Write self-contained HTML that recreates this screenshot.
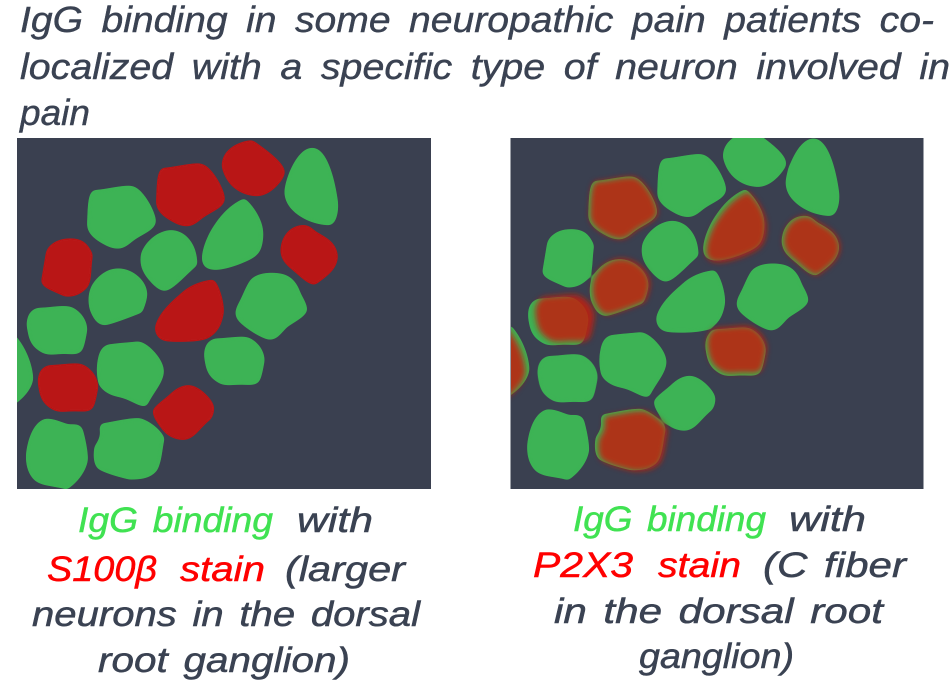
<!DOCTYPE html>
<html>
<head>
<meta charset="utf-8">
<style>
html,body{margin:0;padding:0;background:#fff;width:952px;height:682px;overflow:hidden}
svg{display:block}
text{font-family:"Liberation Sans","DejaVu Sans",sans-serif;font-style:italic;font-size:36px;fill:#3a4252;stroke:#3a4252;stroke-width:.4px;word-spacing:7px}
.c{font-size:35px;word-spacing:4px;stroke-width:.5px}
.g{fill:#40e252;stroke:#40e252}
.r{fill:#ff0000;stroke:#ff0000}
</style>
</head>
<body>
<svg width="952" height="682" viewBox="0 0 952 682" xmlns="http://www.w3.org/2000/svg">
<defs>
<filter id="b" x="-30%" y="-30%" width="160%" height="160%"><feGaussianBlur stdDeviation="9"/></filter>
<filter id="s" x="-5%" y="-5%" width="110%" height="110%"><feGaussianBlur stdDeviation="6"/><feComponentTransfer><feFuncA type="linear" slope="12" intercept="-5.5"/></feComponentTransfer></filter>
<clipPath id="cl"><rect x="17" y="138" width="414" height="351"/></clipPath>
<clipPath id="cr"><rect x="511" y="138" width="412.500" height="351"/></clipPath>
<path id="A" d="M937 55C975 55 1000 130 1012 215C1015 250 1005 285 985 284C920 280 855 240 855 185C858 140 895 55 937 55Z"/>
<path id="B" d="M757 32C790 55 855 100 853 128C850 150 810 197 770 197C720 195 680 165 667 110C665 60 715 35 757 32Z"/>
<path id="C" d="M490 115C520 115 565 100 600 102C630 104 672 175 673 207C672 235 625 245 600 268C575 290 560 292 530 280C500 265 468 245 470 215C472 180 470 120 490 115Z"/>
<path id="E" d="M733 207C755 225 790 270 788 315C786 370 770 380 720 400C680 415 640 425 620 412C600 400 605 360 630 310C655 265 690 225 733 207Z"/>
<path id="F" d="M905 287C925 285 935 295 945 305C970 320 1010 335 1012 380C1010 420 975 440 945 463C920 460 905 440 880 420C855 400 843 385 843 360C845 320 870 290 905 287Z"/>
<path id="G" d="M205 327C250 325 265 345 277 375C270 410 275 450 262 470C240 495 215 500 195 498C170 485 130 475 125 455C130 425 135 395 140 365C150 340 180 327 205 327Z"/>
<path id="H" d="M515 302C555 305 590 340 590 405C565 425 530 465 510 475C490 490 470 475 445 445C425 420 420 400 425 370C440 330 480 302 515 302Z"/>
<path id="I" d="M355 417C400 418 440 455 440 495C438 515 432 530 425 546C390 560 340 580 315 584C295 585 280 565 270 535C265 510 265 480 285 455C305 430 330 417 355 417Z"/>
<path id="J" d="M640 450C655 465 670 510 670 545C665 585 650 610 620 625C590 635 530 635 500 632C480 630 465 615 467 590C475 555 510 520 540 495C565 470 595 455 640 450Z"/>
<path id="K" d="M815 430C860 430 885 445 900 490C910 510 920 525 920 540C915 560 880 575 860 590C840 610 830 630 805 627C780 620 740 595 720 575C705 560 705 545 715 525C730 500 740 465 755 448C770 435 790 430 815 430Z"/>
<path id="L" d="M120 535C150 535 190 525 215 533C240 545 260 570 260 600C255 625 253 645 245 660C235 675 215 670 190 670C165 670 150 675 130 668C105 655 90 640 85 605C78 575 85 555 95 545C105 537 110 535 120 535Z"/>
<path id="O" d="M325 645C360 640 380 640 415 636C445 640 490 690 490 725C488 760 455 790 440 825C425 835 390 805 360 800C330 795 305 780 297 760C290 730 292 700 297 680C302 660 310 650 325 645Z"/>
<path id="P" d="M565 767C595 767 640 810 641 835C640 850 637 860 630 868C610 880 590 915 565 925C540 935 505 920 490 900C475 880 458 860 460 840C475 820 495 810 515 790C535 772 550 767 565 767Z"/>
<path id="Q" d="M135 868C160 865 185 880 205 885C220 885 240 880 247 900C255 930 262 960 262 990C255 1030 225 1060 200 1077C170 1065 130 1070 105 1050C85 1030 78 1000 80 970C85 930 100 880 135 868Z"/>
<path id="R" d="M305 882C340 878 380 865 420 866C450 875 480 900 492 925C485 950 485 990 470 1020C450 1045 420 1047 390 1047C360 1040 320 1030 295 1015C280 1000 282 970 285 950C300 930 305 910 300 895Z"/>
<path id="S" d="M40 612C75 650 95 700 98 745C95 775 70 805 30 830Z"/>
</defs>

<rect x="17" y="138" width="414" height="351" fill="#3a4050"/>
<rect x="510.500" y="138" width="413" height="351" fill="#3a4050"/>

<g clip-path="url(#cl)">
<g transform="translate(0,130) scale(.33333)">
<g fill="#3cb354" stroke="#3cb354" stroke-width="4" stroke-linejoin="round" filter="url(#s)">
<use href="#A"/><use href="#C" transform="translate(-207,67)"/><use href="#E"/><use href="#H"/><use href="#I"/>
<use href="#K"/><use href="#L"/><use href="#L" transform="translate(532,92)"/><use href="#O"/><use href="#Q"/><use href="#R"/><use href="#S"/>
</g>
<g fill="#b91518" stroke="#b91518" stroke-width="4" stroke-linejoin="round" filter="url(#s)">
<use href="#B"/><use href="#C"/><use href="#F"/><use href="#G"/><use href="#J"/>
<use href="#L" transform="translate(33,172)"/><use href="#P"/>
</g>
</g>
</g>

<g clip-path="url(#cr)">
<g transform="translate(501.200,120.700) scale(.33333)">
<g fill="#3cb354" stroke="#3cb354" stroke-width="4" stroke-linejoin="round" filter="url(#s)">
<use href="#A"/><use href="#B"/><use href="#C"/><use href="#C" transform="translate(-207,67)"/><use href="#E"/><use href="#F"/><use href="#G"/><use href="#H"/><use href="#I"/>
<use href="#J"/><use href="#K"/><use href="#L"/><use href="#L" transform="translate(532,92)"/><use href="#O" transform="translate(4,0)"/><use href="#P"/><use href="#Q"/><use href="#R"/>
<use href="#S" transform="translate(-15,0)"/>
</g>
<g fill="#3cb354" stroke="#3cb354" stroke-width="3" stroke-linejoin="round" filter="url(#s)">
<use href="#L" transform="translate(28,172)"/>
</g>
<g fill="#c0200c" fill-opacity=".86" filter="url(#b)">
<use href="#C" transform="translate(-204,67)"/>
<use href="#E" transform="translate(7,6)"/>
<use href="#F" transform="translate(4,0)"/>
<use href="#I" transform="translate(6,-3)"/>
<use href="#L" transform="translate(20,-8)"/>
<use href="#L" transform="translate(536,86)"/>
<use href="#R" transform="translate(8,4)"/>
<use href="#S" transform="translate(-25,8)"/>
</g>
</g>
</g>

<text x="20" y="32" textLength="914" lengthAdjust="spacingAndGlyphs">IgG binding in some neuropathic pain patients co-</text>
<text x="20" y="79" textLength="930" lengthAdjust="spacingAndGlyphs">localized with a specific type of neuron involved in</text>
<text x="20" y="125" textLength="70" lengthAdjust="spacingAndGlyphs">pain</text>

<text class="c g" x="78" y="532" textLength="195" lengthAdjust="spacingAndGlyphs">IgG binding</text>
<text class="c" x="297" y="532" textLength="76" lengthAdjust="spacingAndGlyphs">with</text>
<text class="c r" x="47" y="581" textLength="110" lengthAdjust="spacingAndGlyphs">S100β</text>
<text class="c r" x="180" y="581" textLength="85" lengthAdjust="spacingAndGlyphs">stain</text>
<text class="c" x="285" y="581" textLength="120" lengthAdjust="spacingAndGlyphs">(larger</text>
<text class="c" x="32" y="626" textLength="388" lengthAdjust="spacingAndGlyphs">neurons in the dorsal</text>
<text class="c" x="98" y="672" textLength="252" lengthAdjust="spacingAndGlyphs">root ganglion)</text>

<text class="c g" x="573" y="531" textLength="193" lengthAdjust="spacingAndGlyphs">IgG binding</text>
<text class="c" x="789" y="531" textLength="77" lengthAdjust="spacingAndGlyphs">with</text>
<text class="c r" x="533" y="577" textLength="100" lengthAdjust="spacingAndGlyphs">P2X3</text>
<text class="c r" x="658" y="577" textLength="83" lengthAdjust="spacingAndGlyphs">stain</text>
<text class="c" x="763" y="577" textLength="143" lengthAdjust="spacingAndGlyphs">(C fiber</text>
<text class="c" x="554" y="623" textLength="329" lengthAdjust="spacingAndGlyphs">in the dorsal root</text>
<text class="c" x="639" y="668" textLength="155" lengthAdjust="spacingAndGlyphs">ganglion)</text>
</svg>
</body>
</html>
